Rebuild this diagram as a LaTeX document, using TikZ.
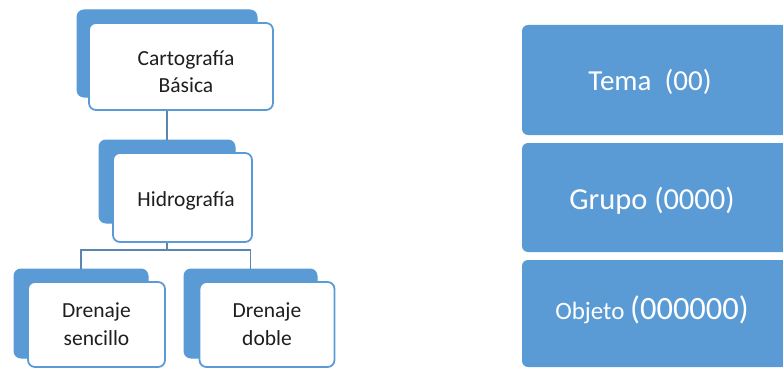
\documentclass[tikz,border=0pt]{standalone}
\usepackage{fontspec}
\setmainfont{Carlito}
\definecolor{accent}{HTML}{5B9BD5}
\definecolor{linkblue}{HTML}{5A86B0}
\definecolor{ink}{HTML}{1E1E1E}
\begin{document}
\begin{tikzpicture}[x=1pt,y=-1pt,
  backbox/.style={draw=accent,fill=accent,rounded corners=7pt,line width=1pt,
    inner sep=0pt,minimum width=#1},
  frontbox/.style={draw=accent,fill=white,rounded corners=7pt,line width=1.8pt,
    inner sep=0pt,align=center,text=ink,font=\fontsize{21.5}{28}\selectfont},
  conn/.style={draw=linkblue,line width=1.4pt},
  rbox/.style={fill=accent,rounded corners=6pt,inner sep=0pt,
    minimum width=270pt},
  rtext/.style={text=white,inner sep=0pt,anchor=center}]
\useasboundingbox (0,0) rectangle (783,369);
\clip (0,0) rectangle (783,369);

% hierarchy: each item is a filled card with a white card on top
\node[backbox=180pt,minimum height=87pt] (cartoBack) at (167,53.5) {};
\node[frontbox,minimum width=184pt,minimum height=87pt] (cartoFront) at (181,66.5) {};
\node[text=ink,font=\fontsize{21.5}{27}\selectfont,align=center,inner sep=0pt]
  (cartoText) at (186,72) {Cartografía\\Básica};

\node[backbox=136pt,minimum height=83pt] (hidroBack) at (167,181.5) {};
\node[frontbox,minimum width=139pt,minimum height=89pt] (hidroFront) at (182.5,197.5) {};
\node[text=ink,font=\fontsize{21.5}{27}\selectfont,inner sep=0pt]
  (hidroText) at (186,201) {Hidrografía};

\node[backbox=134pt,minimum height=89pt] (sencBack) at (81,313.5) {};
\node[frontbox,minimum width=137pt,minimum height=85pt] (sencFront) at (96.5,324.5)
  {Drenaje\\sencillo};

\node[backbox=133pt,minimum height=89pt] (dobBack) at (250.5,313.5) {};
\node[frontbox,minimum width=135pt,minimum height=85pt] (dobFront) at (267,324.5)
  {Drenaje\\doble};

% connectors
\coordinate (fork) at (167,250);
\draw[conn] (cartoBack.center |- cartoFront.south) -- (hidroBack.north);
\draw[conn] (hidroBack.center |- hidroFront.south) -- (fork);
\draw[conn] (sencBack.north) -- (sencBack.north |- fork) -- (dobBack.north |- fork)
  -- (dobBack.north);

% code levels
\node[rbox,minimum height=110pt] (tema) at (657,80) {};
\node[rbox,minimum height=109pt] (grupo) at (657,197.5) {};
\node[rbox,minimum height=107pt] (objeto) at (657,313.5) {};
\node[rtext,font=\fontsize{29}{30}\selectfont] (temaT) at (650,82) {Tema\ \ (00)};
\node[rtext,font=\fontsize{30.5}{32}\selectfont] (grupoT) at (652,201) {Grupo (0000)};
\node[rtext] (objetoT) at (652,310)
  {{\fontsize{25}{30}\selectfont Objeto }{\fontsize{32.5}{34}\selectfont (000000)}};
\end{tikzpicture}
\end{document}
